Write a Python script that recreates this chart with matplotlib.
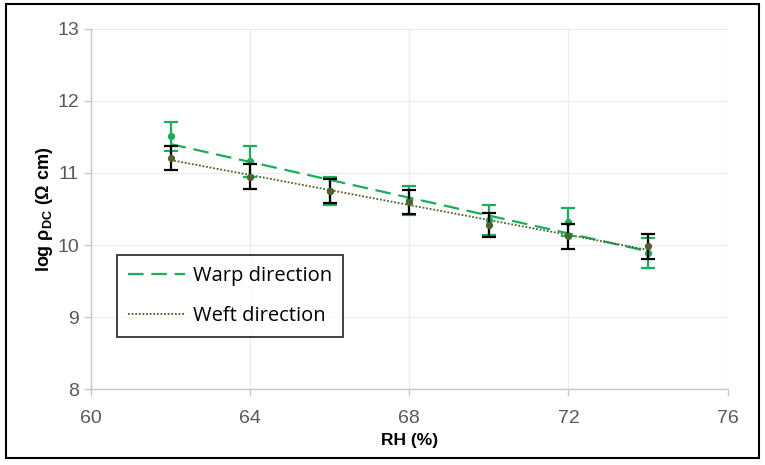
import numpy as np
import matplotlib
matplotlib.use("Agg")
import matplotlib.pyplot as plt
from matplotlib.patches import Rectangle

# data
rh = [62, 64, 66, 68, 70, 72, 74]
warp = [11.51, 11.16, 10.75, 10.62, 10.35, 10.32, 9.89]
warp_err = [0.20, 0.21, 0.20, 0.20, 0.21, 0.20, 0.21]
weft = [11.21, 10.95, 10.75, 10.60, 10.28, 10.12, 9.98]
weft_err = [0.17, 0.17, 0.17, 0.17, 0.17, 0.17, 0.17]

x_ticks = [60, 64, 68, 72, 76]
y_ticks = [8, 9, 10, 11, 12, 13]

GREEN = "#17B05A"
OLIVE = "#4F6228"
GREY = "#595959"

plt.rcParams["font.family"] = ["Liberation Sans", "DejaVu Sans"]
plt.rcParams["mathtext.fontset"] = "custom"
plt.rcParams["mathtext.rm"] = "Liberation Sans"
plt.rcParams["mathtext.bf"] = "Liberation Sans:bold"

fig = plt.figure(figsize=(7.65, 4.65), dpi=100)
ax = fig.add_axes([0.119, 0.163, 0.832, 0.775])

x = np.array(rh, dtype=float)
# Excel-style linear trendlines
for ys, col, ls, lw, lab in [(warp, GREEN, (0, (7, 3.5)), 1.6, "Warp direction"),
                             (weft, OLIVE, (0, (1, 1)), 1.3, "Weft direction")]:
    k, b = np.polyfit(x, ys, 1)
    ax.plot(x, k * x + b, color=col, ls=ls, lw=lw, label=lab, zorder=3)

ax.errorbar(rh, warp, yerr=warp_err, fmt="o", ms=4.2, color=GREEN, ecolor=GREEN,
            elinewidth=1.6, capsize=5, capthick=1.6, zorder=4)
ax.errorbar(rh, weft, yerr=weft_err, fmt="o", ms=4.2, color=OLIVE, ecolor="black",
            elinewidth=1.6, capsize=5, capthick=1.6, zorder=5)

ax.set_xlim(60, 76)
ax.set_ylim(8, 13)
ax.set_xticks(x_ticks)
ax.set_yticks(y_ticks)
ax.grid(True, color="#ececec", lw=1.0, zorder=0)
ax.set_axisbelow(True)
for s in ("top", "right"):
    ax.spines[s].set_visible(False)
for s in ("left", "bottom"):
    ax.spines[s].set_color("#c8c8c8")
    ax.spines[s].set_linewidth(1.0)
ax.tick_params(colors="#c8c8c8", labelcolor=GREY, labelsize=14, length=5, width=1.0)
ax.tick_params(axis="x", pad=10)

ax.set_xlabel("RH (%)", fontsize=12.5, fontweight="bold", labelpad=4)
ax.set_ylabel(r"log ρ$_\mathbf{DC}$ (Ω cm)", fontsize=13, fontweight="bold", labelpad=2)

leg = ax.legend(loc="lower left", bbox_to_anchor=(0.041, 0.145), borderaxespad=0,
                frameon=True, fancybox=False, edgecolor="black", handlelength=2.8,
                handletextpad=0.4, borderpad=0.55, labelspacing=1.0,
                prop={"family": ["Open Sans", "DejaVu Sans"], "size": 14.5})
leg.get_frame().set_linewidth(1.3)

fig.patches.append(Rectangle((6 / 765, 1 - 458 / 465), 753 / 765, 454 / 465,
                             transform=fig.transFigure, fill=False,
                             edgecolor="black", lw=1.5))

fig.savefig("out.png", dpi=100)
